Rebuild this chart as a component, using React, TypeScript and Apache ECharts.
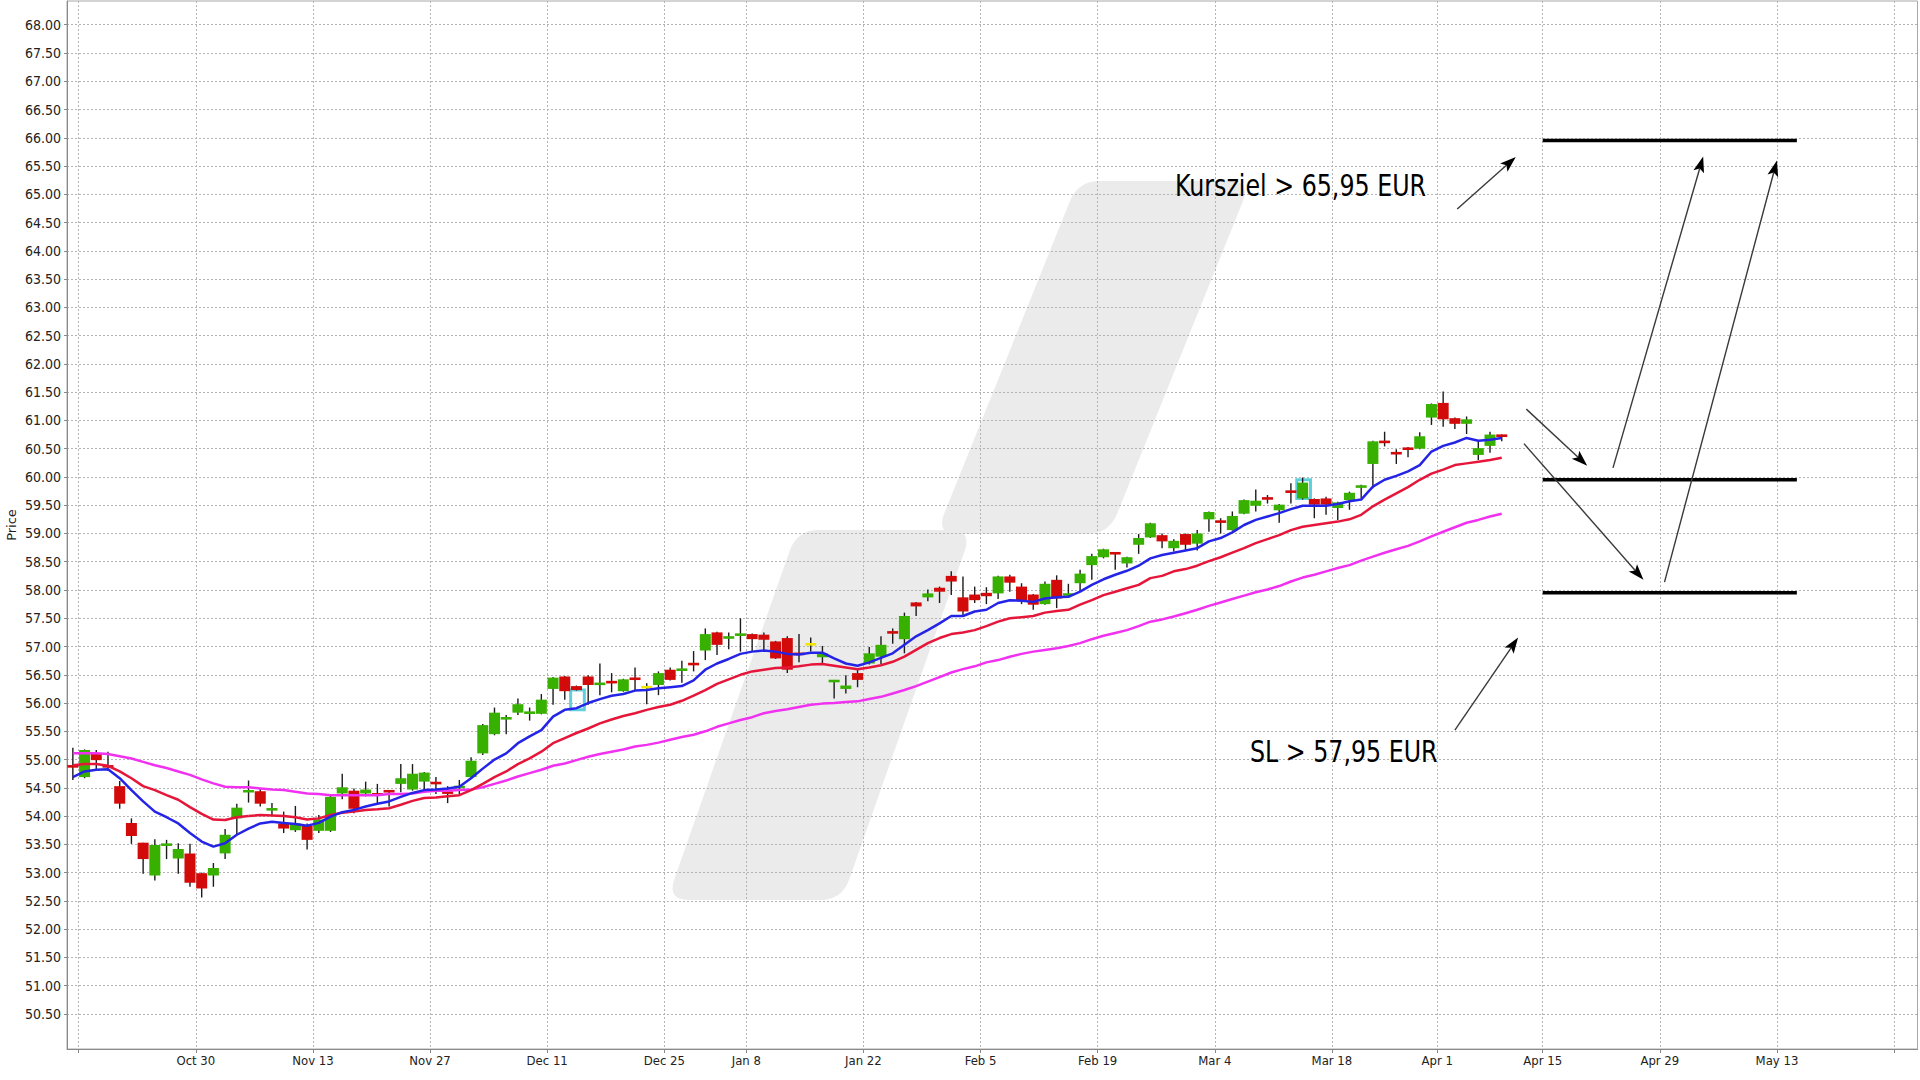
import React, { useEffect, useRef } from 'react';
import * as echarts from 'echarts';

// ---------- axis categories (trading days, then future weekdays) ----------
const categories: string[] = [
  '2023-10-13',
  '2023-10-16', '2023-10-17', '2023-10-18', '2023-10-19', '2023-10-20',
  '2023-10-23', '2023-10-24', '2023-10-25', '2023-10-26', '2023-10-27',
  '2023-10-30', '2023-10-31', '2023-11-01', '2023-11-02', '2023-11-03',
  '2023-11-06', '2023-11-07', '2023-11-08', '2023-11-09', '2023-11-10',
  '2023-11-13', '2023-11-14', '2023-11-15', '2023-11-16', '2023-11-17',
  '2023-11-20', '2023-11-21', '2023-11-22', '2023-11-23', '2023-11-24',
  '2023-11-27', '2023-11-28', '2023-11-29', '2023-11-30', '2023-12-01',
  '2023-12-04', '2023-12-05', '2023-12-06', '2023-12-07', '2023-12-08',
  '2023-12-11', '2023-12-12', '2023-12-13', '2023-12-14', '2023-12-15',
  '2023-12-18', '2023-12-19', '2023-12-20', '2023-12-21', '2023-12-22',
  '2023-12-27', '2023-12-28', '2023-12-29',
  '2024-01-02', '2024-01-03', '2024-01-04', '2024-01-05',
  '2024-01-08', '2024-01-09', '2024-01-10', '2024-01-11', '2024-01-12',
  '2024-01-15', '2024-01-16', '2024-01-17', '2024-01-18', '2024-01-19',
  '2024-01-22', '2024-01-23', '2024-01-24', '2024-01-25', '2024-01-26',
  '2024-01-29', '2024-01-30', '2024-01-31', '2024-02-01', '2024-02-02',
  '2024-02-05', '2024-02-06', '2024-02-07', '2024-02-08', '2024-02-09',
  '2024-02-12', '2024-02-13', '2024-02-14', '2024-02-15', '2024-02-16',
  '2024-02-19', '2024-02-20', '2024-02-21', '2024-02-22', '2024-02-23',
  '2024-02-26', '2024-02-27', '2024-02-28', '2024-02-29', '2024-03-01',
  '2024-03-04', '2024-03-05', '2024-03-06', '2024-03-07', '2024-03-08',
  '2024-03-11', '2024-03-12', '2024-03-13', '2024-03-14', '2024-03-15',
  '2024-03-18', '2024-03-19', '2024-03-20', '2024-03-21', '2024-03-22',
  '2024-03-25', '2024-03-26', '2024-03-27', '2024-03-28',
  '2024-04-02', '2024-04-03', '2024-04-04', '2024-04-05',
  '2024-04-08', '2024-04-09', '2024-04-10', '2024-04-11', '2024-04-12',
  '2024-04-15', '2024-04-16', '2024-04-17', '2024-04-18', '2024-04-19',
  '2024-04-22', '2024-04-23', '2024-04-24', '2024-04-25', '2024-04-26',
  '2024-04-29', '2024-04-30', '2024-05-01', '2024-05-02', '2024-05-03',
  '2024-05-06', '2024-05-07', '2024-05-08', '2024-05-09', '2024-05-10',
  '2024-05-13', '2024-05-14', '2024-05-15', '2024-05-16', '2024-05-17',
  '2024-05-20', '2024-05-21', '2024-05-22', '2024-05-23', '2024-05-24',
  '2024-05-27', '2024-05-28',
];

// vertical grid lines (every second Monday, next trading day on holidays)
const gridDates: string[] = [
  '2023-10-16', '2023-10-30', '2023-11-13', '2023-11-27', '2023-12-11', '2023-12-27',
  '2024-01-08', '2024-01-22', '2024-02-05', '2024-02-19', '2024-03-04', '2024-03-18',
  '2024-04-02', '2024-04-15', '2024-04-29', '2024-05-13', '2024-05-27',
];
const labelDates: string[] = [
  '2023-10-30', '2023-11-13', '2023-11-27', '2023-12-11', '2023-12-27',
  '2024-01-08', '2024-01-22', '2024-02-05', '2024-02-19', '2024-03-04', '2024-03-18',
  '2024-04-02', '2024-04-15', '2024-04-29', '2024-05-13',
];
const labelTexts: string[] = [
  'Oct 30', 'Nov 13', 'Nov 27', 'Dec 11', 'Dec 25',
  'Jan 8', 'Jan 22', 'Feb 5', 'Feb 19', 'Mar 4', 'Mar 18',
  'Apr 1', 'Apr 15', 'Apr 29', 'May 13',
];

const yTicks: number[] = [
  50.5, 51, 51.5, 52, 52.5, 53, 53.5, 54, 54.5, 55, 55.5, 56, 56.5, 57, 57.5, 58, 58.5,
  59, 59.5, 60, 60.5, 61, 61.5, 62, 62.5, 63, 63.5, 64, 64.5, 65, 65.5, 66, 66.5, 67, 67.5, 68,
];

// ---------- candles: [open, close, low, high] ----------
const candles: number[][] = [
  [54.90, 54.86, 54.64, 55.21],
  [54.69, 55.17, 54.67, 55.18], [55.11, 54.99, 54.82, 55.17], [54.90, 54.86, 54.80, 55.14],
  [54.53, 54.22, 54.13, 54.62], [53.88, 53.65, 53.51, 53.96],
  [53.53, 53.24, 52.98, 53.53], [52.95, 53.49, 52.86, 53.59], [53.48, 53.51, 53.24, 53.58],
  [53.25, 53.42, 52.98, 53.52], [53.34, 52.82, 52.75, 53.51],
  [52.99, 52.72, 52.56, 53.00], [52.95, 53.08, 52.75, 53.17], [53.34, 53.67, 53.24, 53.77],
  [53.96, 54.15, 53.67, 54.22], [54.43, 54.45, 54.24, 54.63],
  [54.44, 54.22, 54.17, 54.49], [54.11, 54.13, 54.02, 54.23], [53.87, 53.78, 53.70, 54.08],
  [53.75, 53.87, 53.72, 54.18], [53.83, 53.58, 53.41, 53.87],
  [53.74, 53.94, 53.70, 54.02], [53.74, 54.34, 53.72, 54.39], [54.40, 54.51, 54.30, 54.75],
  [54.45, 54.13, 54.05, 54.49], [54.40, 54.47, 54.35, 54.61],
  [54.39, 54.38, 54.20, 54.57], [54.46, 54.42, 54.17, 54.46], [54.57, 54.67, 54.42, 54.92],
  [54.47, 54.75, 54.45, 54.92], [54.61, 54.77, 54.46, 54.78],
  [54.60, 54.57, 54.39, 54.69], [54.42, 54.41, 54.23, 54.53], [54.50, 54.53, 54.39, 54.64],
  [54.69, 54.98, 54.66, 55.04], [55.11, 55.61, 55.08, 55.63],
  [55.45, 55.83, 55.43, 55.92], [55.72, 55.74, 55.45, 55.79], [55.83, 55.98, 55.79, 56.08],
  [55.81, 55.85, 55.69, 55.92], [55.81, 56.06, 55.80, 56.16],
  [56.25, 56.45, 55.97, 56.46], [56.47, 56.21, 56.06, 56.48], [56.30, 56.23, 56.22, 56.31],
  [56.47, 56.32, 55.97, 56.49], [56.33, 56.35, 56.14, 56.70],
  [56.38, 56.36, 56.19, 56.53], [56.21, 56.42, 56.20, 56.43], [56.44, 56.42, 56.23, 56.63],
  [56.28, 56.28, 55.98, 56.35], [56.32, 56.53, 56.14, 56.56],
  [56.59, 56.41, 56.40, 56.63], [56.58, 56.60, 56.36, 56.75], [56.70, 56.68, 56.56, 56.92],
  [56.93, 57.22, 56.76, 57.32], [57.25, 57.03, 56.85, 57.26], [57.15, 57.17, 56.95, 57.25],
  [57.20, 57.22, 56.91, 57.50],
  [57.22, 57.13, 56.91, 57.23], [57.21, 57.12, 56.94, 57.25], [57.09, 56.79, 56.78, 57.10],
  [57.15, 56.59, 56.53, 57.18], [56.88, 56.86, 56.72, 57.22],
  [57.04, 57.04, 56.91, 57.16], [56.81, 56.88, 56.70, 57.01], [56.38, 56.40, 56.08, 56.41],
  [56.25, 56.31, 56.17, 56.49], [56.53, 56.41, 56.28, 56.59],
  [56.70, 56.88, 56.68, 56.99], [56.82, 57.03, 56.69, 57.18], [57.26, 57.24, 57.05, 57.32],
  [57.13, 57.54, 56.88, 57.60], [57.78, 57.71, 57.54, 57.79],
  [57.87, 57.94, 57.80, 58.01], [58.04, 57.97, 57.77, 58.06], [58.25, 58.15, 57.91, 58.33],
  [57.87, 57.62, 57.54, 58.24], [57.92, 57.82, 57.77, 58.06],
  [57.95, 57.89, 57.75, 58.05], [57.94, 58.24, 57.84, 58.25], [58.24, 58.13, 57.97, 58.27],
  [58.06, 57.81, 57.75, 58.12], [57.92, 57.74, 57.65, 57.93],
  [57.75, 58.11, 57.74, 58.15], [58.18, 57.85, 57.68, 58.26], [57.91, 57.93, 57.90, 58.11],
  [58.12, 58.29, 57.97, 58.36], [58.44, 58.60, 58.18, 58.64],
  [58.58, 58.72, 58.56, 58.73], [58.66, 58.64, 58.36, 58.67], [58.47, 58.58, 58.40, 58.59],
  [58.80, 58.92, 58.64, 58.99], [58.93, 59.18, 58.92, 59.19],
  [58.97, 58.86, 58.74, 59.00], [58.74, 58.87, 58.68, 58.90], [58.99, 58.80, 58.70, 59.00],
  [58.82, 59.00, 58.70, 59.06], [59.25, 59.38, 59.03, 59.39],
  [59.22, 59.20, 59.00, 59.27], [59.06, 59.31, 59.05, 59.39], [59.35, 59.59, 59.34, 59.60],
  [59.49, 59.58, 59.39, 59.78], [59.63, 59.61, 59.53, 59.68],
  [59.41, 59.51, 59.19, 59.52], [59.75, 59.73, 59.53, 59.89], [59.62, 59.90, 59.60, 59.99],
  [59.61, 59.51, 59.27, 59.62], [59.62, 59.51, 59.33, 59.65],
  [59.45, 59.55, 59.24, 59.56], [59.59, 59.72, 59.42, 59.74], [59.82, 59.84, 59.62, 59.86],
  [60.23, 60.63, 59.80, 60.64], [60.63, 60.61, 60.54, 60.80],
  [60.43, 60.41, 60.23, 60.49], [60.51, 60.49, 60.35, 60.53], [60.50, 60.72, 60.49, 60.79],
  [61.05, 61.29, 60.92, 61.30],
  [61.31, 61.02, 60.89, 61.51], [61.04, 60.94, 60.85, 61.05], [60.94, 61.02, 60.76, 61.07],
  [60.39, 60.51, 60.30, 60.63],
  [60.55, 60.75, 60.43, 60.80], [60.74, 60.72, 60.63, 60.75],
];

// ---------- moving averages ----------
const maFast: number[] = [
  54.69, 54.79, 54.82, 54.83, 54.67, 54.46, 54.26, 54.08, 53.98, 53.87,
  53.70, 53.55, 53.46, 53.52, 53.67, 53.78, 53.87, 53.90, 53.88, 53.86,
  53.83, 53.88, 53.99, 54.07, 54.11, 54.17, 54.22, 54.26, 54.34, 54.41,
  54.46, 54.47, 54.49, 54.52, 54.67, 54.84, 55.00, 55.11, 55.29, 55.41,
  55.52, 55.76, 55.88, 55.91, 56.00, 56.07, 56.13, 56.16, 56.22, 56.23,
  56.26, 56.28, 56.30, 56.40, 56.59, 56.70, 56.78, 56.87, 56.91, 56.93,
  56.91, 56.87, 56.86, 56.89, 56.89, 56.79, 56.70, 56.66, 56.72, 56.80,
  56.88, 57.03, 57.18, 57.29, 57.41, 57.54, 57.54, 57.62, 57.65, 57.77,
  57.82, 57.81, 57.79, 57.85, 57.87, 57.88, 57.97, 58.09, 58.19, 58.27,
  58.34, 58.43, 58.56, 58.62, 58.66, 58.70, 58.74, 58.86, 58.92, 59.02,
  59.15, 59.24, 59.30, 59.36, 59.43, 59.49, 59.49, 59.49, 59.52, 59.57,
  59.60, 59.83, 59.95, 60.02, 60.10, 60.21, 60.45, 60.55, 60.61, 60.69,
  60.64, 60.66, 60.69,
];
const maMid: number[] = [
  54.90, 54.92, 54.92, 54.89, 54.79, 54.67, 54.53, 54.46, 54.37, 54.29,
  54.16, 54.04, 53.94, 53.93, 53.98, 54.00, 54.02, 54.01, 54.00, 53.98,
  53.94, 53.96, 54.02, 54.06, 54.08, 54.11, 54.12, 54.14, 54.20, 54.27,
  54.32, 54.33, 54.35, 54.37, 54.46, 54.57, 54.69, 54.79, 54.92, 55.02,
  55.14, 55.29, 55.38, 55.47, 55.55, 55.64, 55.71, 55.77, 55.82, 55.88,
  55.93, 55.97, 56.04, 56.13, 56.23, 56.34, 56.42, 56.50, 56.56, 56.59,
  56.62, 56.63, 56.65, 56.68, 56.69, 56.66, 56.63, 56.60, 56.63, 56.67,
  56.73, 56.82, 56.94, 57.06, 57.15, 57.22, 57.25, 57.29, 57.36, 57.44,
  57.50, 57.52, 57.54, 57.60, 57.63, 57.65, 57.74, 57.82, 57.91, 57.97,
  58.03, 58.09, 58.21, 58.25, 58.33, 58.37, 58.43, 58.51, 58.58, 58.66,
  58.74, 58.83, 58.90, 58.97, 59.06, 59.12, 59.15, 59.18, 59.21, 59.25,
  59.33, 59.48, 59.60, 59.71, 59.82, 59.95, 60.06, 60.13, 60.21, 60.24,
  60.27, 60.30, 60.34,
];
const maSlow: number[] = [
  55.11, 55.11, 55.11, 55.10, 55.06, 55.02, 54.96, 54.90, 54.85, 54.79,
  54.73, 54.65, 54.58, 54.52, 54.51, 54.51, 54.49, 54.47, 54.46, 54.43,
  54.40, 54.39, 54.37, 54.37, 54.37, 54.37, 54.37, 54.39, 54.39, 54.40,
  54.43, 54.45, 54.45, 54.46, 54.47, 54.51, 54.57, 54.63, 54.70, 54.76,
  54.82, 54.89, 54.93, 54.99, 55.05, 55.10, 55.14, 55.18, 55.23, 55.26,
  55.30, 55.35, 55.40, 55.44, 55.50, 55.58, 55.64, 55.70, 55.75, 55.82,
  55.86, 55.89, 55.93, 55.97, 55.99, 56.00, 56.02, 56.03, 56.07, 56.11,
  56.17, 56.23, 56.30, 56.38, 56.46, 56.54, 56.60, 56.65, 56.72, 56.76,
  56.82, 56.87, 56.91, 56.94, 56.97, 57.01, 57.06, 57.13, 57.19, 57.24,
  57.29, 57.36, 57.44, 57.48, 57.53, 57.59, 57.65, 57.72, 57.78, 57.84,
  57.90, 57.96, 58.01, 58.07, 58.15, 58.22, 58.27, 58.33, 58.39, 58.44,
  58.52, 58.59, 58.66, 58.72, 58.78, 58.86, 58.95, 59.03, 59.11, 59.19,
  59.24, 59.30, 59.35,
];

const lastPrice = 60.72;
// cyan highlight boxes: [trading-day index, top, bottom]
const highlightBoxes: number[][] = [[43, 56.23, 55.88], [105, 59.95, 59.62]];

// ---------- trade plan annotations (trading-day index, price) ----------
const targetLevels: number[] = [65.95, 59.95, 57.95];
const levelRange: number[] = [125.5, 147.2];
// [fromIdx, fromPrice, toIdx, toPrice]
const arrows: number[][] = [
  [118.2, 64.74, 123.2, 65.66],
  [118.0, 55.52, 123.4, 57.16],
  [124.1, 61.20, 129.3, 60.20],
  [123.9, 60.59, 134.1, 58.18],
  [131.5, 60.16, 139.2, 65.67],
  [135.9, 58.14, 145.5, 65.60],
];
const noteTexts: string[] = ['Kursziel > 65,95 EUR', 'SL > 57,95 EUR'];
const noteAnchors: number[][] = [[94.1, 65.14], [100.5, 55.13]];

const GREEN = '#38b000';
const RED = '#d20a0a';
const YELLOW = '#f2e600';
const FONT = "'DejaVu Sans Condensed', 'DejaVu Sans', sans-serif";
const NOTE_FONT = "'DejaVu Sans Condensed', 'DejaVu Sans', sans-serif";

function roundedPath(pts: number[][], r: number): string {
  const n = pts.length;
  let d = '';
  for (let k = 0; k < n; k++) {
    const p = pts[k];
    const prev = pts[(k - 1 + n) % n];
    const next = pts[(k + 1) % n];
    const v1 = [prev[0] - p[0], prev[1] - p[1]];
    const v2 = [next[0] - p[0], next[1] - p[1]];
    const l1 = Math.hypot(v1[0], v1[1]);
    const l2 = Math.hypot(v2[0], v2[1]);
    const a = [p[0] + (v1[0] / l1) * r, p[1] + (v1[1] / l1) * r];
    const b = [p[0] + (v2[0] / l2) * r, p[1] + (v2[1] / l2) * r];
    d += (k === 0 ? 'M' : 'L') + a[0].toFixed(1) + ' ' + a[1].toFixed(1) + ' Q' + p[0] + ' ' + p[1] + ' ' + b[0].toFixed(1) + ' ' + b[1].toFixed(1) + ' ';
  }
  return d + 'Z';
}

const wmUpper = [[1078, 181], [1251, 181], [1109, 534], [936, 534]];
const wmLower = [[797, 530], [972, 530], [842, 900], [667, 900]];

export default function App() {
  const ref = useRef<HTMLDivElement>(null);

  useEffect(() => {
    if (!ref.current) return;
    echarts.graphic.registerShape('wmUpper', echarts.graphic.extendPath(roundedPath(wmUpper, 22), {}));
    echarts.graphic.registerShape('wmLower', echarts.graphic.extendPath(roundedPath(wmLower, 22), {}));
    const chart = echarts.init(ref.current, null, { renderer: 'svg' });

    // x positions: trading day k occupies [k, k+1]; grid lines on day boundaries
    const gridIdx = gridDates.map((d) => categories.indexOf(d));
    const labelIdx = labelDates.map((d) => categories.indexOf(d));
    const labelByIdx: Record<number, string> = {};
    labelIdx.forEach((v, k) => { labelByIdx[v] = labelTexts[k]; });

    const candleData = candles.map((c, i) => [i + 0.5, c[0], c[1], c[2], c[3]]);
    const toPts = (arr: number[]) => arr.map((v, i) => [i + 0.5, v]);

    const option: any = {
      animation: false,
      backgroundColor: '#ffffff',
      grid: {
        left: 67, right: 2.5, top: 1, bottom: 31,
        containLabel: false,
        outerBoundsMode: 'none',
        show: true, borderColor: '#a8a8a8', borderWidth: 1, backgroundColor: 'transparent',
      },
      xAxis: {
        type: 'value',
        min: 0,
        max: categories.length,
        axisLine: { show: true, onZero: false, lineStyle: { color: '#8a8a8a', width: 1 } },
        axisTick: { show: true, length: 4, customValues: gridIdx, lineStyle: { color: '#8a8a8a' } },
        axisLabel: {
          show: true,
          customValues: labelIdx,
          formatter: (v: number) => labelByIdx[Math.round(v)] || '',
          color: '#222', fontSize: 13, fontFamily: FONT, margin: 5,
        },
        splitLine: { show: true, lineStyle: { color: '#b4b4b4', type: [2, 2], width: 1 } },
      },
      yAxis: {
        type: 'value',
        min: 49.88,
        max: 68.42,
        position: 'left',
        name: 'Price',
        nameLocation: 'middle',
        nameRotate: 90,
        nameGap: 49,
        nameMoveOverlap: false,
        nameTextStyle: { color: '#222', fontSize: 13, fontFamily: "'DejaVu Sans', sans-serif" },
        axisLine: { show: true, onZero: false, lineStyle: { color: '#8a8a8a', width: 1 } },
        axisTick: { show: true, length: 3, customValues: yTicks, lineStyle: { color: '#8a8a8a' } },
        axisLabel: {
          show: true, customValues: yTicks,
          formatter: (v: number) => v.toFixed(2),
          color: '#222', fontSize: 14, fontFamily: FONT, margin: 6,
        },
        splitLine: { show: true, lineStyle: { color: '#b4b4b4', type: [2, 2], width: 1 } },
      },
      series: [
        {
          type: 'custom',
          name: 'highlight',
          z: 2,
          data: highlightBoxes.map((b) => [b[0] + 0.5, b[1], b[2]]),
          encode: { x: 0, y: [1, 2] },
          renderItem: (_p: any, api: any) => {
            const x = api.value(0);
            const t = api.coord([x, api.value(1)]);
            const b = api.coord([x, api.value(2)]);
            const w = api.size([1, 0])[0];
            return {
              type: 'rect',
              shape: { x: t[0] - w / 2, y: t[1], width: w + 2, height: b[1] - t[1] },
              style: { fill: 'none', stroke: '#5fd0dc', lineWidth: 3 },
            };
          },
        },
        {
          type: 'custom',
          name: 'candles',
          z: 3,
          data: candleData,
          encode: { x: 0, y: [1, 2, 3, 4] },
          renderItem: (_p: any, api: any) => {
            const xv = api.value(0);
            const o = api.value(1);
            const c = api.value(2);
            const l = api.value(3);
            const h = api.value(4);
            const po = api.coord([xv, o]);
            const pc = api.coord([xv, c]);
            const pl = api.coord([xv, l]);
            const ph = api.coord([xv, h]);
            const w = api.size([1, 0])[0] * 0.94;
            const x = po[0];
            let top = Math.min(po[1], pc[1]);
            let bot = Math.max(po[1], pc[1]);
            if (bot - top < 2.6) {
              const m = (top + bot) / 2;
              top = m - 1.3;
              bot = m + 1.3;
            }
            const color = o === c ? YELLOW : c > o ? GREEN : RED;
            return {
              type: 'group',
              children: [
                { type: 'line', shape: { x1: x, y1: ph[1], x2: x, y2: pl[1] }, style: { stroke: '#1c1c1c', lineWidth: 1.4 } },
                { type: 'rect', shape: { x: x - w / 2, y: top, width: w, height: bot - top }, style: { fill: color } },
              ],
            };
          },
        },
        {
          type: 'line', name: 'slow', data: toPts(maSlow), symbol: 'none', z: 4,
          lineStyle: { color: '#f032f0', width: 2.5 }, itemStyle: { color: '#f032f0' },
        },
        {
          type: 'line', name: 'mid', data: toPts(maMid), symbol: 'none', z: 5,
          lineStyle: { color: '#e5163a', width: 2.5 }, itemStyle: { color: '#e5163a' },
        },
        {
          type: 'line', name: 'fast', data: toPts(maFast), symbol: 'none', z: 6,
          lineStyle: { color: '#2424e6', width: 2.5 }, itemStyle: { color: '#2424e6' },
          markLine: {
            silent: true,
            symbol: ['none', 'none'],
            lineStyle: { opacity: 0 },
            label: {
              show: true, position: 'start', distance: 5,
              formatter: () => lastPrice.toFixed(2),
              backgroundColor: '#ffff00', color: '#000', fontSize: 14, fontFamily: FONT,
              padding: [1, 1, 0, 1],
            },
            data: [{ yAxis: lastPrice }],
          },
        },
      ],
    };

    chart.setOption(option);

    // annotations positioned through the chart's own scales
    const px = (idx: number, price: number): number[] =>
      chart.convertToPixel({ xAxisIndex: 0, yAxisIndex: 0 }, [idx + 0.5, price]) as number[];

    const graphics: any[] = [
      { type: 'wmUpper', x: 0, y: 0, scaleX: 1, scaleY: 1, z: -10, silent: true, style: { fill: '#ebebeb' } },
      { type: 'wmLower', x: 0, y: 0, scaleX: 1, scaleY: 1, z: -10, silent: true, style: { fill: '#ebebeb' } },
    ];

    targetLevels.forEach((lv) => {
      const s = px(levelRange[0], lv);
      const e = px(levelRange[1], lv);
      graphics.push({
        type: 'line', z: 20, silent: true,
        shape: { x1: s[0], y1: s[1], x2: e[0], y2: e[1] },
        style: { stroke: '#000', lineWidth: 3.5 },
      });
    });

    arrows.forEach((a) => {
      const s = px(a[0], a[1]);
      const t = px(a[2], a[3]);
      const dx = t[0] - s[0];
      const dy = t[1] - s[1];
      const len = Math.hypot(dx, dy);
      const ux = dx / len;
      const uy = dy / len;
      const nx = -uy;
      const ny = ux;
      const L = 16;
      const hw = 5.5;
      const back = [t[0] - ux * L, t[1] - uy * L];
      const notch = [t[0] - ux * L * 0.78, t[1] - uy * L * 0.78];
      graphics.push({
        type: 'line', z: 20, silent: true,
        shape: { x1: s[0], y1: s[1], x2: notch[0], y2: notch[1] },
        style: { stroke: '#3a3a3a', lineWidth: 1.4 },
      });
      graphics.push({
        type: 'polygon', z: 21, silent: true,
        shape: {
          points: [
            [t[0], t[1]],
            [back[0] + nx * hw, back[1] + ny * hw],
            [notch[0], notch[1]],
            [back[0] - nx * hw, back[1] - ny * hw],
          ],
        },
        style: { fill: '#000' },
      });
    });

    noteTexts.forEach((txt, k) => {
      const p = px(noteAnchors[k][0], noteAnchors[k][1]);
      graphics.push({
        type: 'text', z: 22, silent: true,
        x: p[0], y: p[1], scaleX: 0.88, scaleY: 1,
        style: {
          text: txt, fill: '#000', fontSize: 30, fontFamily: NOTE_FONT,
          align: 'left', verticalAlign: 'middle',
        },
      });
    });

    chart.setOption({ graphic: graphics });

    return () => {
      chart.dispose();
    };
  }, []);

  return (
    <div
      ref={ref}
      style={{ position: 'fixed', left: 0, top: 0, width: 1920, height: 1080, background: '#fff' }}
    />
  );
}
